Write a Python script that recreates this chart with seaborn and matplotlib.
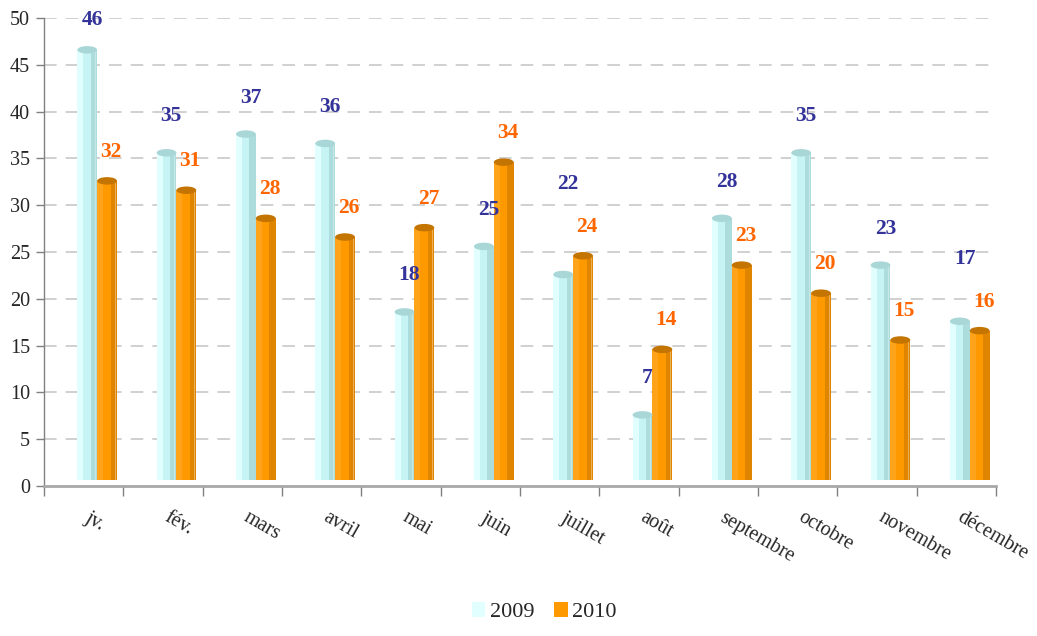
import numpy as np
import pandas as pd
import matplotlib
matplotlib.use("Agg")
import matplotlib.pyplot as plt
import seaborn as sns
from matplotlib.patches import Rectangle, Ellipse, Patch

months = ["jv.", "fév.", "mars", "avril", "mai", "juin", "juillet", "août",
          "septembre", "octobre", "novembre", "décembre"]
values_2009 = [46, 35, 37, 36, 18, 25, 22, 7, 28, 35, 23, 17]
values_2010 = [32, 31, 28, 26, 27, 34, 24, 14, 23, 20, 15, 16]
years = ["2009", "2010"]
y_ticks = [0, 5, 10, 15, 20, 25, 30, 35, 40, 45, 50]

col_main = {"2009": "#c6f3f3", "2010": "#ff9900"}
col_light = {"2009": "#e2ffff", "2010": "#ffa31a"}
col_dark = {"2009": "#acdcdc", "2010": "#e08500"}
col_cap = {"2009": "#a9d6d6", "2010": "#c47400"}
label_col = {"2009": "#333399", "2010": "#ff6600"}

df = pd.DataFrame({
    "month": months * 2,
    "year": ["2009"] * len(months) + ["2010"] * len(months),
    "value": values_2009 + values_2010,
})

sns.set_style("white")
plt.rcParams["font.family"] = ["Liberation Serif", "DejaVu Serif"]

fig = plt.figure(figsize=(10.37, 6.36), dpi=100)
ax = fig.add_axes([0.0424, 0.2358, 0.918, 0.7359])

sns.barplot(data=df, x="month", y="value", hue="year", order=months,
            hue_order=years, palette=col_main, width=0.5, ax=ax,
            legend=False, saturation=1, edgecolor="none", linewidth=0)

shift = 0.17      # perspective offset of the 3D bars
lift = 0.6        # depth lift of the bar base
bars = list(ax.patches)
n = len(months)
for i, p in enumerate(bars):
    yr = years[i // n]
    p.set_x(p.get_x() + shift)
    p.set_y(lift)
    x0, w, h = p.get_x(), p.get_width(), p.get_height()
    z = p.get_zorder()
    ax.add_patch(Rectangle((x0, lift), w * 0.3, h, color=col_light[yr], lw=0, zorder=z + 0.1))
    ax.add_patch(Rectangle((x0 + w * 0.68, lift), w * 0.32, h, color=col_dark[yr], lw=0, zorder=z + 0.1))
    ax.add_patch(Rectangle((x0 + w * 0.9, lift), w * 0.03, h, color="#ffffff", alpha=0.35, lw=0, zorder=z + 0.2))
    ax.add_patch(Ellipse((x0 + w / 2, lift + h), w, 0.8, color=col_cap[yr], lw=0, zorder=z + 0.3))

# value labels
for j in range(n):
    v9, v10 = values_2009[j], values_2010[j]
    c9 = bars[j].get_x() + bars[j].get_width() / 2
    c10 = bars[n + j].get_x() + bars[n + j].get_width() / 2
    y10 = v10 + 3.7
    y9 = min(v9 + 4.5, 49.8)
    if abs(y9 - y10) < 3.0:
        y9 = y10 + 4.6
    ax.text(c9 + 0.06, y9, str(v9), ha="center", va="center", fontsize=15.5,
            fontweight="bold", color=label_col["2009"])
    ax.text(c10 + 0.05, y10, str(v10), ha="center", va="center", fontsize=15.5,
            fontweight="bold", color=label_col["2010"])

ax.set_xlim(-0.5, n - 0.5)
ax.set_ylim(0, 50)
ax.set_yticks(y_ticks)
ax.set_yticklabels([str(t) for t in y_ticks], fontsize=14.5)
ax.set_xticks(np.arange(-0.5, n, 1.0))
ax.set_xticklabels([])
ax.set_xticks(np.arange(n) + 0.09, minor=True)
ax.set_xticklabels(months, minor=True, fontsize=14.5, rotation=-30,
                   ha="left", va="top", rotation_mode="anchor")
ax.tick_params(axis="x", which="minor", length=0, pad=16)
ax.tick_params(axis="x", which="major", length=7, width=1, color="#808080", direction="out", bottom=True)
ax.tick_params(axis="y", length=6, width=1, color="#808080", direction="out", left=True, pad=4)
ax.set_xlabel("")
ax.set_ylabel("")

for yv in y_ticks[1:]:
    ax.axhline(yv, color="#cdcdcd", lw=1.3, ls=(0, (7, 5)), zorder=0)

for s in ["top", "right"]:
    ax.spines[s].set_visible(False)
ax.spines["left"].set_color("#808080")
ax.spines["left"].set_linewidth(1)
ax.spines["bottom"].set_color("#a8a8a8")
ax.spines["bottom"].set_linewidth(2)
ax.set_axisbelow(True)

handles = [Patch(facecolor=col_light["2009"], edgecolor="none"),
           Patch(facecolor=col_main["2010"], edgecolor="none")]
fig.legend(handles, years, loc="lower center", bbox_to_anchor=(0.525, -0.01),
           ncol=2, frameon=False, fontsize=16, handlelength=0.6,
           handleheight=0.6, handletextpad=0.2, columnspacing=0.9)

fig.savefig("out.png", dpi=100)
